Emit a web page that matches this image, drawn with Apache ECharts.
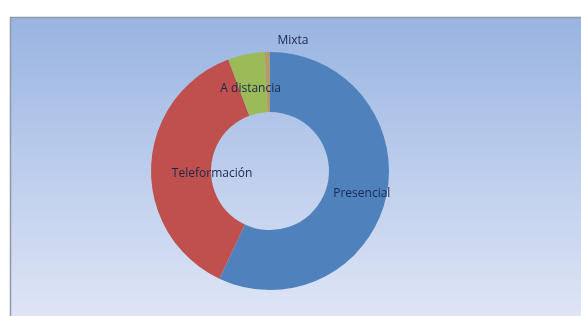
<!DOCTYPE html>
<html>
<head>
<meta charset="utf-8">
<script src="https://cdn.jsdelivr.net/npm/echarts@6/dist/echarts.min.js"></script>
<style>
  html, body { margin: 0; padding: 0; background: #ffffff; }
  #main { width: 581px; height: 316px; }
</style>
</head>
<body>
<div id="main"></div>
<script>
// datos del gráfico
var categorias = ['Presencial', 'Teleformación', 'A distancia', 'Mixta'];
var valores = [57, 37.3, 5, 0.7];
var colores = ['#4f81bd', '#c0504d', '#9bbb59', '#b49a6a'];

var chart = echarts.init(document.getElementById('main'), null, { renderer: 'canvas' });

// desplazamiento de cada etiqueta (best fit de Excel)
var desplaz = {
  'Presencial': [2, 3],
  'Teleformación': [34, 6],
  'A distancia': [-1, 8],
  'Mixta': [25, -38]
};

var datos = categorias.map(function (c, i) {
  return {
    name: c,
    value: valores[i],
    itemStyle: { color: colores[i] },
    label: { offset: desplaz[c] }
  };
});

var option = {
  animation: false,
  graphic: [{
    type: 'rect',
    z: -10,
    shape: { x: 10.5, y: 17.5, width: 580, height: 300 },
    style: {
      fill: new echarts.graphic.LinearGradient(0, 0, 0, 1, [
        { offset: 0, color: '#98b4e1' },
        { offset: 0.5, color: '#bccdec' },
        { offset: 1, color: '#dfe5f6' }
      ]),
      stroke: '#8e99a6',
      lineWidth: 1.5
    }
  }],
  series: [{
    type: 'pie',
    center: [270, 171],
    radius: [59, 119],
    startAngle: 90,
    clockwise: true,
    data: datos,
    itemStyle: { borderWidth: 0 },
    label: {
      show: true,
      position: 'inside',
      formatter: '{b}',
      color: '#1a2850',
      fontFamily: 'Open Sans',
      fontSize: 12
    },
    labelLine: { show: false },
    emphasis: { disabled: true }
  }]
};

chart.setOption(option);
</script>
</body>
</html>
